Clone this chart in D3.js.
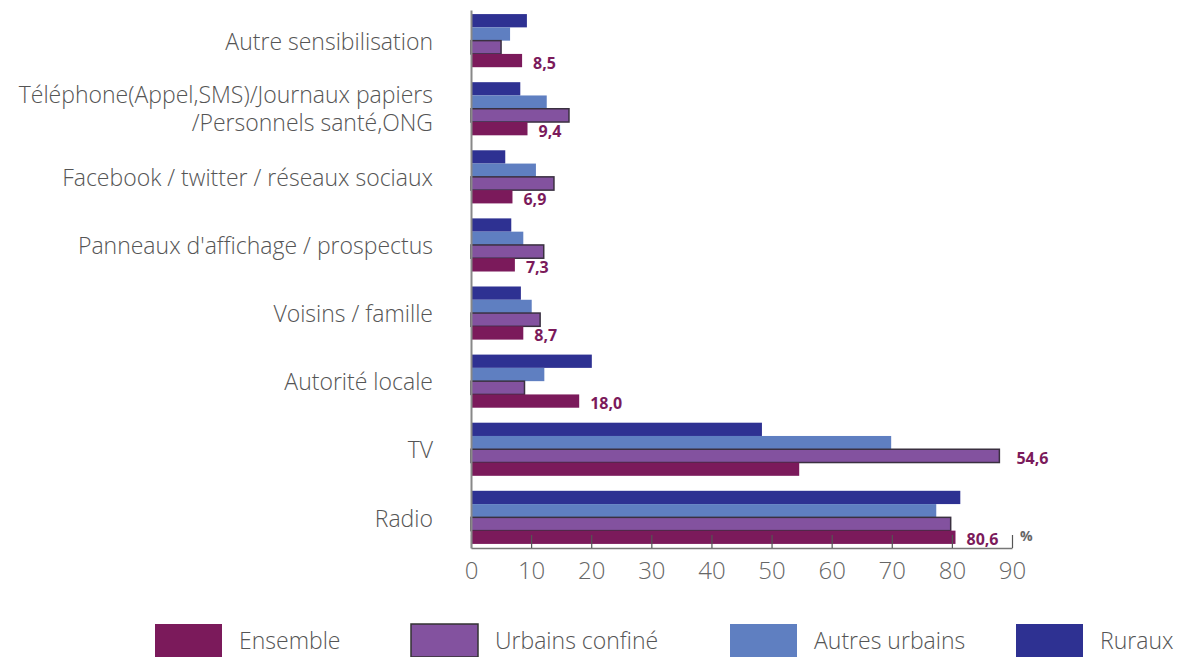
<!DOCTYPE html>
<html>
<head>
<meta charset="utf-8">
<script src="https://cdn.jsdelivr.net/npm/d3@7"></script>
<style>
  body { margin: 0; background: #fff; }
  text { font-family: "Open Sans", sans-serif; }
</style>
</head>
<body>
<svg></svg>
<script>
const width = 1178;
const height = 657;

// données (%)
const categories = [
  "Autre sensibilisation",
  "Téléphone(Appel,SMS)/Journaux papiers|/Personnels santé,ONG",
  "Facebook / twitter / réseaux sociaux",
  "Panneaux d'affichage / prospectus",
  "Voisins / famille",
  "Autorité locale",
  "TV",
  "Radio"
];
const ensemble = [8.5, 9.4, 6.9, 7.3, 8.7, 18.0, 54.6, 80.6];
const urbainsConfine = [5.0, 16.3, 13.8, 12.1, 11.5, 8.9, 87.9, 79.8];
const autresUrbains = [6.5, 12.6, 10.8, 8.7, 10.1, 12.2, 69.9, 77.4];
const ruraux = [9.3, 8.2, 5.7, 6.7, 8.3, 20.1, 48.4, 81.4];
const xTicks = [0, 10, 20, 30, 40, 50, 60, 70, 80, 90];

// ordre de la légende, puis ordre des barres (de haut en bas)
const seriesNames = ["Ensemble", "Urbains confiné", "Autres urbains", "Ruraux"];
const barOrder = ["Ruraux", "Autres urbains", "Urbains confiné", "Ensemble"];
const seriesValues = {
  "Ensemble": ensemble,
  "Urbains confiné": urbainsConfine,
  "Autres urbains": autresUrbains,
  "Ruraux": ruraux
};
const colors = {
  "Ensemble": "#7b1a5b",
  "Urbains confiné": "#83529f",
  "Autres urbains": "#5f7fc1",
  "Ruraux": "#2e3192"
};

const svg = d3.select("svg").attr("width", width).attr("height", height);

const x = d3.scaleLinear().domain([0, 90]).range([471, 1012]);

const y = d3
  .scaleBand()
  .domain(categories)
  .range([10, 548])
  .paddingInner(0.22)
  .paddingOuter(0.06);

const ySub = d3.scaleBand().domain(barOrder).range([0, y.bandwidth()]);

// barres
const groups = svg
  .append("g")
  .selectAll("g")
  .data(categories)
  .enter()
  .append("g")
  .attr("transform", (d) => `translate(0,${y(d)})`);

groups
  .selectAll("rect")
  .data((d, i) => barOrder.map((s) => ({ s: s, v: seriesValues[s][i] })))
  .enter()
  .append("rect")
  .attr("x", x(0))
  .attr("y", (d) => ySub(d.s))
  .attr("width", (d) => x(d.v) - x(0))
  .attr("height", ySub.bandwidth())
  .attr("fill", (d) => colors[d.s])
  .attr("stroke", (d) => (d.s === "Urbains confiné" ? "#3a3040" : "none"))
  .attr("stroke-width", 1.5);

// étiquettes de valeur (Ensemble) ; pour TV elle est posée à côté de la barre Urbains confiné
groups
  .append("text")
  .attr("x", (d, i) => {
    const v = d === "TV" ? urbainsConfine[i] : ensemble[i];
    return x(v) + (d === "TV" ? 17 : 11);
  })
  .attr("y", (d) => {
    const s = d === "TV" ? "Urbains confiné" : "Ensemble";
    return ySub(s) + ySub.bandwidth() + 1.5;
  })
  .style("font-size", "16px")
  .style("font-weight", "bold")
  .style("fill", colors["Ensemble"])
  .text((d, i) => d3.format(".1f")(ensemble[i]).replace(".", ","));

// axe X
const xAxis = svg
  .append("g")
  .attr("transform", `translate(0,548)`)
  .call(d3.axisBottom(x).tickValues(xTicks).tickSize(-13).tickSizeOuter(0).tickPadding(14));

xAxis.select(".domain").attr("stroke", "#777").attr("stroke-width", 1.5);
xAxis.selectAll(".tick line").attr("stroke", "#555").attr("stroke-width", 1.2);
xAxis
  .selectAll(".tick text")
  .style("font-size", "24px")
  .style("font-weight", 300)
  .style("fill", "#666");

// axe Y
const yAxis = svg
  .append("g")
  .attr("transform", `translate(${x(0)},0)`)
  .call(d3.axisLeft(y).tickSize(0).tickSizeOuter(0).tickPadding(38));

yAxis.select(".domain").attr("stroke", "#888").attr("stroke-width", 2);
yAxis
  .selectAll(".tick text")
  .style("font-size", "23px")
  .style("font-weight", 300)
  .style("fill", "#555")
  .attr("dy", "0.4em")
  .each(function (d) {
    const lines = d.split("|");
    if (lines.length < 2) return;
    const t = d3.select(this).text(null);
    lines.forEach((l, k) => {
      t.append("tspan")
        .attr("x", -38)
        .attr("dy", k === 0 ? "-0.25em" : "1.2em")
        .text(l);
    });
  });

// unité
svg
  .append("text")
  .attr("x", 1020)
  .attr("y", 541)
  .style("font-size", "14px")
  .style("font-weight", "bold")
  .style("fill", "#666")
  .text("%");

// légende
const legendX = [155, 411, 730, 1016];
const legend = svg.append("g").attr("transform", "translate(0,624)");
seriesNames.forEach((s, i) => {
  legend
    .append("rect")
    .attr("x", legendX[i])
    .attr("y", 0)
    .attr("width", 67)
    .attr("height", 33)
    .attr("fill", colors[s])
    .attr("stroke", s === "Urbains confiné" ? "#333" : "none")
    .attr("stroke-width", 1.5);
  legend
    .append("text")
    .attr("x", legendX[i] + 84)
    .attr("y", 25)
    .style("font-size", "23px")
    .style("font-weight", 300)
    .style("fill", "#555")
    .text(s);
});
</script>
</body>
</html>
